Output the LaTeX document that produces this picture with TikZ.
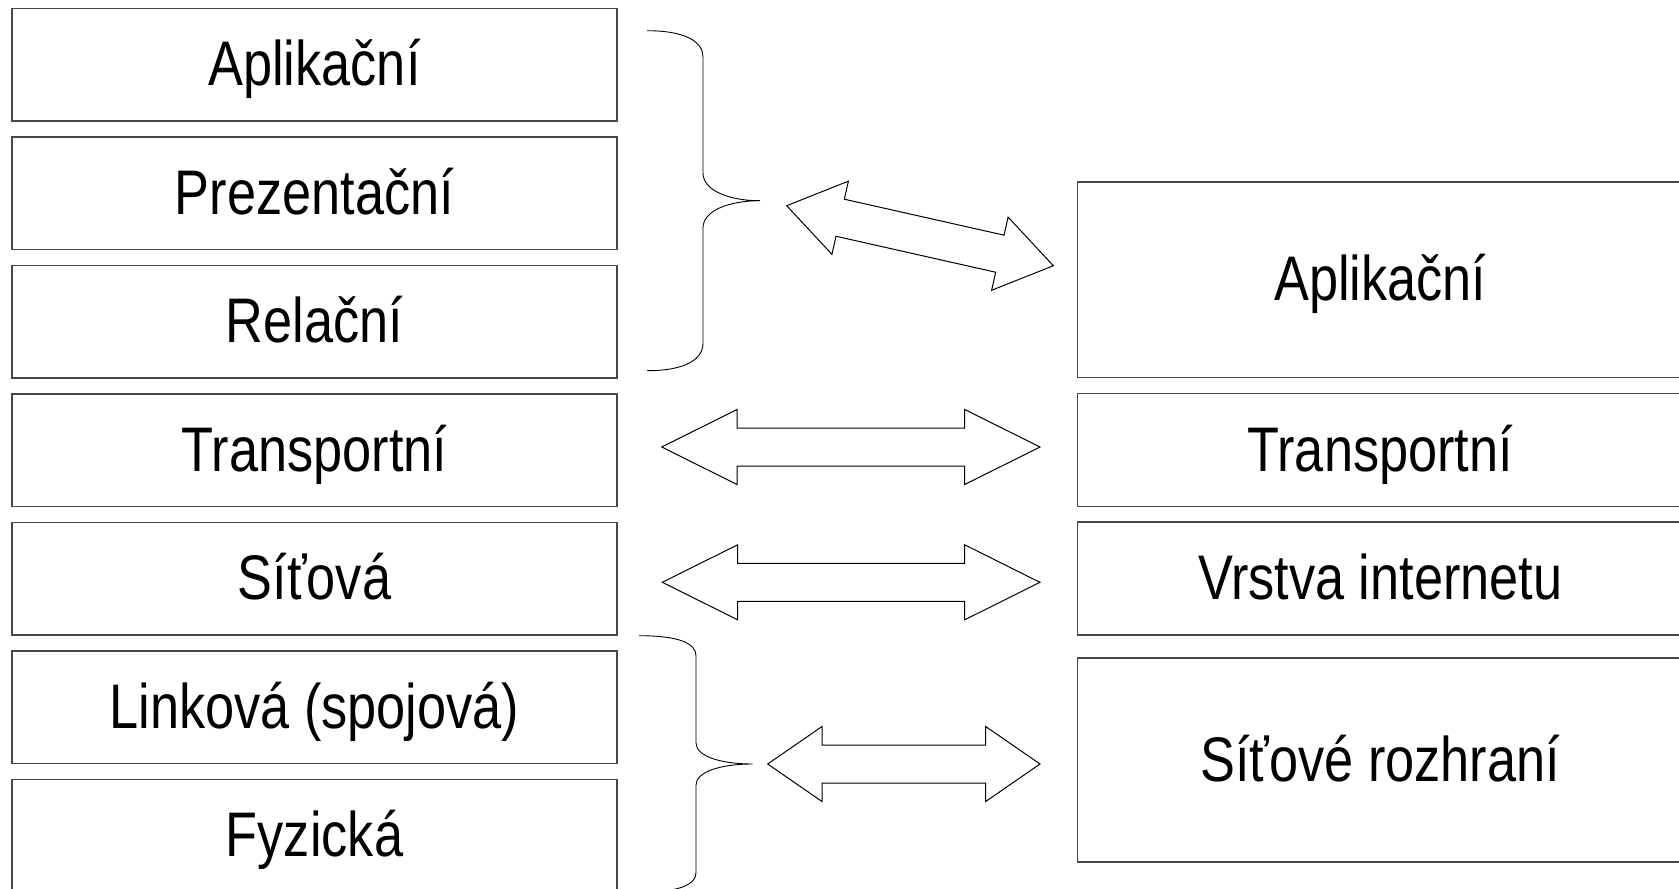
\documentclass[tikz,border=0pt]{standalone}
\usepackage{fontspec}
\setmainfont{Liberation Sans}[FakeStretch=0.83]
\begin{document}
\begin{tikzpicture}[x=1pt,y=-1pt,
  layer/.style={rectangle, draw=black!72, line width=1.2pt, inner sep=0pt,
    text height=42pt, text depth=0pt, font=\fontsize{63}{70}\selectfont},
  leftlayer/.style={layer, minimum width=605pt, minimum height=112.5pt},
  rightlayer/.style={layer, minimum width=605.5pt},
  brace/.style={draw=black, line width=0.9pt},
  blockarrow/.style={draw=black, line width=1pt, line join=miter, fill=white},
  pics/dblarrow/.style args={#1/#2}{code={
    \path[blockarrow] (0,0) -- (#2,-37.5) -- (#2,-19) -- ({#1-#2},-19)
      -- ({#1-#2},-37.5) -- (#1,0) -- ({#1-#2},37.5) -- ({#1-#2},19)
      -- (#2,19) -- (#2,37.5) -- cycle;
  }}
]
\clip (0,0) rectangle (1679,889);
\fill[white] (0,0) rectangle (1679,889);

% OSI model (left column)
\node[leftlayer] (LApp)   at (314.5, 64.75)  {Aplikační};
\node[leftlayer] (LPres)  at (314.5, 193.25) {Prezentační};
\node[leftlayer] (LSes)   at (314.5, 321.75) {Relační};
\node[leftlayer] (LTrans) at (314.5, 450.25) {Transportní};
\node[leftlayer] (LNet)   at (314.5, 578.75) {Síťová};
\node[leftlayer] (LLink)  at (314.5, 707.25) {Linková (spojová)};
\node[leftlayer] (LPhys)  at (314.5, 835.75) {Fyzická};

% TCP/IP model (right column)
\node[rightlayer, minimum height=195.5pt] (RApp)   at (1380.25, 279.75) {Aplikační};
\node[rightlayer, minimum height=113pt]   (RTrans) at (1380.25, 450)    {Transportní};
\node[rightlayer, minimum height=113pt]   (RInet)  at (1380.25, 578.5)  {Vrstva internetu};
\node[rightlayer, minimum height=204pt]   (RNet)   at (1380.25, 760)    {Síťové rozhraní};

% braces grouping the upper and lower OSI layers
\coordinate (topTip) at (760,200.7);
\coordinate (botTip) at (752.7,764);
\path[brace] (647,30.7) .. controls (686,30.7) and (703,42) .. (703,57)
  -- (703,173) .. controls (703,190) and (728,200.7) .. (topTip)
  .. controls (728,200.7) and (703,211) .. (703,228)
  -- (703,343) .. controls (703,359) and (686,370.7) .. (647,370.7);
\path[brace] (639,635.7) .. controls (678,635.7) and (696,643) .. (696,655.7)
  -- (696,743) .. controls (696,756) and (720,764) .. (botTip)
  .. controls (720,764) and (696,772) .. (696,785)
  -- (696,872.7) .. controls (696,885) and (678,892.3) .. (639,892.3);

% two-way block arrows between corresponding layers
\coordinate (a1) at (786.7,205.7);
\coordinate (a2) at (661.7,447);
\coordinate (a3) at (662.3,582.3);
\coordinate (a4) at (767.7,764);
\pic[rotate=-12.69] at (a1) {dblarrow=273.3/54.8};
\pic at (a2) {dblarrow=378.3/75.3};
\pic at (a3) {dblarrow=377.7/75.3};
\pic at (a4) {dblarrow=272.3/54.3};
\end{tikzpicture}
\end{document}
